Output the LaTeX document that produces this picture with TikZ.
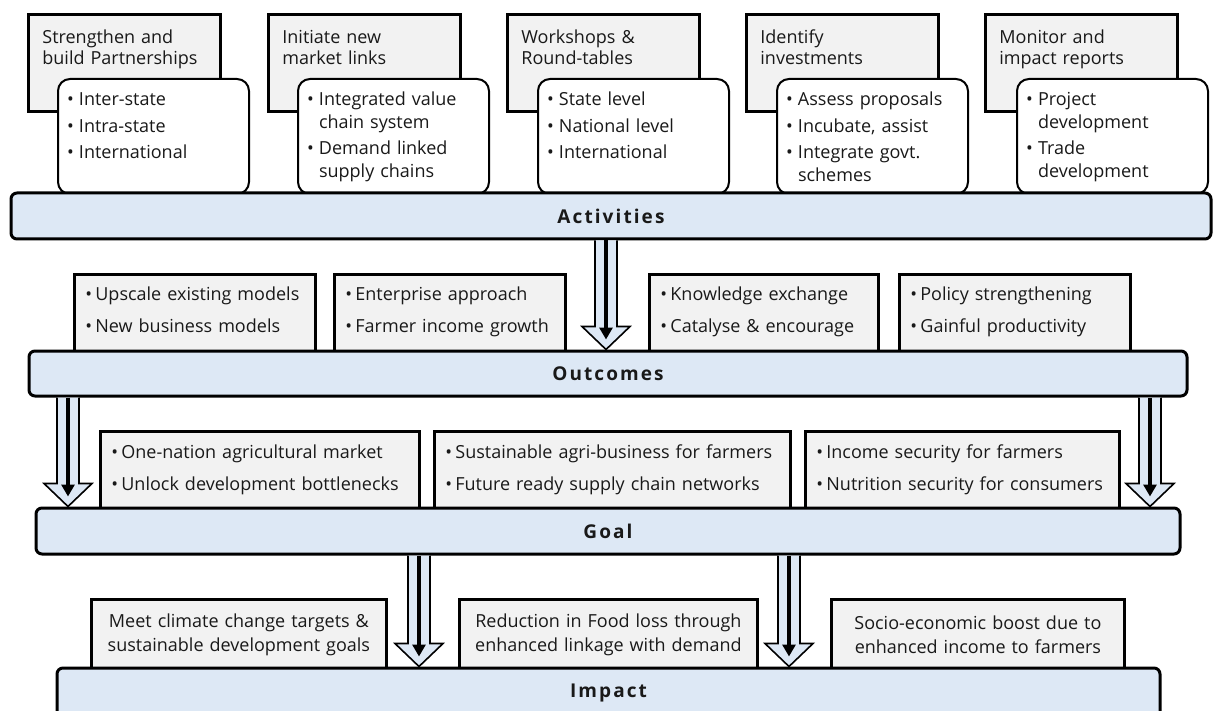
\documentclass[tikz,border=0pt]{standalone}
\usepackage{fontspec}
\setmainfont{Open Sans}
\usetikzlibrary{calc,arrows.meta}
\definecolor{barblue}{RGB}{221,232,245}
\definecolor{boxgrey}{RGB}{242,242,242}
\definecolor{ink}{RGB}{25,25,25}
\newlength{\itemgap}
\newcommand{\bitem}[2][12pt]{\hangindent=#1\hangafter=1\makebox[#1][l]{\textbullet}#2\par\vspace{\itemgap}}
\newcommand{\flowarrow}[3]{% x, from bar, to bar
	\coordinate (s) at (#1,0 |- #2.south);
	\coordinate (t) at (#1,0 |- #3.north);
	\draw[arrowbody] ($(s)+(-11,0)$) -- ($(t)+(-11,-23)$) -- ($(t)+(-24,-23)$) -- (t)
	-- ($(t)+(24,-23)$) -- ($(t)+(11,-23)$) -- ($(s)+(11,0)$);
	\draw[arrowcore] (s) -- ($(t)+(0,-10)$);}
\begin{document}
\begin{tikzpicture}[x=1pt,y=-1pt,text=ink,
	headbox/.style={draw,line width=2.8pt,fill=boxgrey,anchor=north west,align=left,text width=164,inner xsep=14,inner ysep=0,text height=29,text depth=68,font=\fontsize{18}{21}\selectfont},
	listbox/.style={draw,line width=2pt,fill=white,rounded corners=12,anchor=north west,align=left,text width=173,inner xsep=9,inner ysep=0,text height=27,text depth=88,font=\fontsize{18}{22.5}\selectfont\setlength{\itemgap}{4pt}},
	rowbox/.style={draw,line width=2.8pt,fill=boxgrey,anchor=north west,align=left,inner xsep=11,inner ysep=0,font=\fontsize{18}{22.5}\selectfont\setlength{\itemgap}{9.5pt}},
	impbox/.style={draw,line width=2.8pt,fill=boxgrey,anchor=north west,align=center,minimum height=70,inner xsep=6,inner ysep=0,font=\fontsize{18}{24}\selectfont},
	bar/.style={draw,line width=3pt,fill=barblue,rounded corners=6,font=\fontsize{19}{22}\selectfont\bfseries\addfontfeature{LetterSpace=11}},
	arrowbody/.style={draw=black,line width=1.6pt,fill=barblue,line join=miter},
	arrowcore/.style={line width=4.5pt,-{Triangle[length=12pt,width=13pt]}}]
	\useasboundingbox (0,0) rectangle (1215,711);
	% Activities
	\node[headbox] (h1) at (27,13) {Strengthen and\\build Partnerships};
	\node[headbox] (h2) at (267,13) {Initiate new\\market links};
	\node[headbox] (h3) at (506,13) {Workshops \&\\Round-tables};
	\node[headbox] (h4) at (745,13) {Identify\\investments};
	\node[headbox] (h5) at (984,13) {Monitor and\\impact reports};
	\node[listbox] (l1) at (57,78) {\bitem{Inter-state}\bitem{Intra-state}\bitem{International}};
	\node[listbox] (l2) at (297,78) {\bitem{Integrated value\newline chain system}\bitem{Demand linked\newline supply chains}};
	\node[listbox] (l3) at (537,78) {\bitem{State level}\bitem{National level}\bitem{International}};
	\node[listbox] (l4) at (776,78) {\bitem{Assess proposals}\bitem{Incubate, assist}\bitem{Integrate govt.\newline schemes}};
	\node[listbox] (l5) at (1016,78) {\bitem{Project\newline development}\bitem{Trade\newline development}};
	\node[bar,minimum width=1200,minimum height=46] (act) at (611,216) {Activities};
	% Outcomes
	\node[rowbox,text width=219,text height=26,text depth=52] (o1) at (73,273) {\bitem[10pt]{Upscale existing models}\bitem[10pt]{New business models}};
	\node[rowbox,text width=209,text height=26,text depth=52] (o2) at (333,273) {\bitem[10pt]{Enterprise approach}\bitem[10pt]{Farmer income growth}};
	\node[rowbox,text width=207,text height=26,text depth=52] (o3) at (648,273) {\bitem[10pt]{Knowledge exchange}\bitem[10pt]{Catalyse \& encourage}};
	\node[rowbox,text width=209,text height=26,text depth=52] (o4) at (898,273) {\bitem[10pt]{Policy strengthening}\bitem[10pt]{Gainful productivity}};
	\node[bar,minimum width=1158,minimum height=45] (out) at (608,373.5) {Outcomes};
	% Goal
	\node[rowbox,text width=297,text height=27,text depth=51] (g1) at (99,430) {\bitem[10pt]{One-nation agricultural market}\bitem[10pt]{Unlock development bottlenecks}};
	\node[rowbox,text width=334,text height=27,text depth=51] (g2) at (433,430) {\bitem[10pt]{Sustainable agri-business for farmers}\bitem[10pt]{Future ready supply chain networks}};
	\node[rowbox,text width=292,text height=27,text depth=51] (g3) at (804,430) {\bitem[10pt]{Income security for farmers}\bitem[10pt]{Nutrition security for consumers}};
	\node[bar,minimum width=1144,minimum height=46] (goal) at (608,531) {Goal};
	% Impact
	\node[impbox,text width=283] (i1) at (90,598) {Meet climate change targets \&\\sustainable development goals};
	\node[impbox,text width=286] (i2) at (458,598) {Reduction in Food loss through\\enhanced linkage with demand};
	\node[impbox,text width=281] (i3) at (830,598) {Socio-economic boost due to\\enhanced income to farmers};
	\node[bar,minimum width=1103,minimum height=50] (imp) at (608.5,693) {Impact};
	\flowarrow{606}{act}{out}
	\flowarrow{68}{out}{goal}
	\flowarrow{1150}{out}{goal}
	\flowarrow{419}{goal}{imp}
	\flowarrow{789}{goal}{imp}
\end{tikzpicture}
\end{document}
